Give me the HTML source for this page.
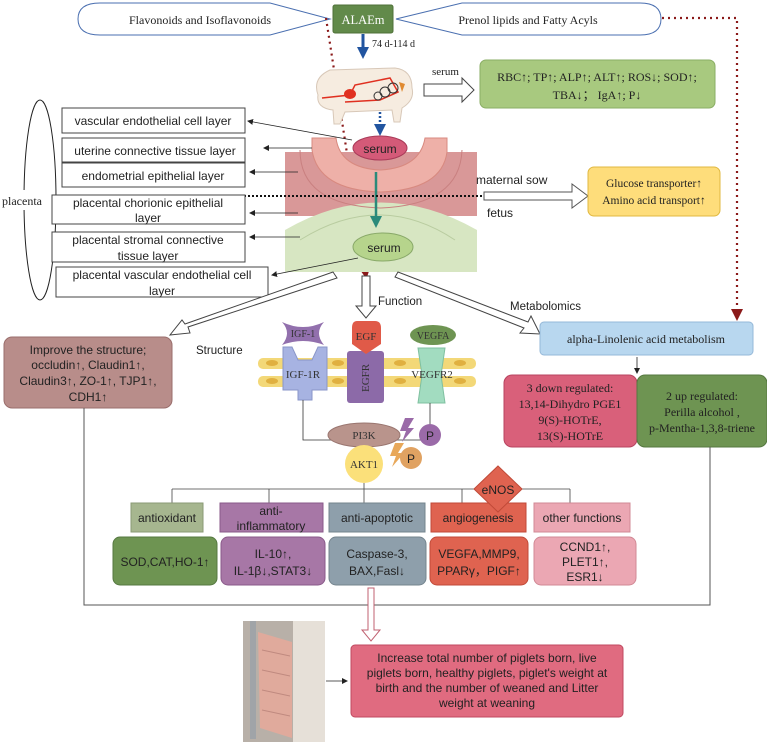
<!DOCTYPE html>
<html><head><meta charset="utf-8"><style>
html,body{margin:0;padding:0;background:#fff;}
svg{display:block;}
.s{font-family:"Liberation Serif",serif;}
.a{font-family:"Liberation Sans",sans-serif;}
</style></head><body>
<svg width="767" height="745" viewBox="0 0 767 745" xmlns="http://www.w3.org/2000/svg">
<defs>
<marker id="ab" markerUnits="userSpaceOnUse" markerWidth="12" markerHeight="12" refX="9" refY="6" orient="auto"><path d="M0,0 L12,6 L0,12 z" fill="#2255a0"/></marker>
<marker id="ak" markerUnits="userSpaceOnUse" markerWidth="6" markerHeight="6" refX="5" refY="3" orient="auto"><path d="M0,0 L6,3 L0,6 z" fill="#222"/></marker>
<marker id="ar" markerUnits="userSpaceOnUse" markerWidth="12" markerHeight="12" refX="9" refY="6" orient="auto"><path d="M0,0 L12,6 L0,12 z" fill="#8b1a1a"/></marker>
<marker id="at" markerUnits="userSpaceOnUse" markerWidth="12" markerHeight="12" refX="9" refY="6" orient="auto"><path d="M0,0 L12,6 L0,12 z" fill="#2a8a7a"/></marker>
</defs>

<path d="M100,3 L270,3 L330,19 L270,35 L100,35 Q78,35 78,19 Q78,3 100,3 z" fill="#fff" stroke="#4a6fb0" stroke-width="1"/>
<text x="200" y="24" class="s" font-size="12" text-anchor="middle" fill="#222">Flavonoids and Isoflavonoids</text>
<path d="M462,3 L640,3 Q661,3 661,19 Q661,35 640,35 L462,35 L396,19 z" fill="#fff" stroke="#4a6fb0" stroke-width="1"/>
<text x="528" y="24" class="s" font-size="12" text-anchor="middle" fill="#222">Prenol lipids and Fatty Acyls</text>
<rect x="333" y="5" width="60" height="28" rx="2" fill="#628a4a" stroke="#4f7038"/>
<text x="363" y="24" class="s" font-size="12.5" text-anchor="middle" fill="#fff">ALAEm</text>

<path d="M662,18 L737,18 L737,318" fill="none" stroke="#8b1a1a" stroke-width="2.2" stroke-dasharray="2,4" marker-end="url(#ar)"/>
<path d="M326,18 L366,276" fill="none" stroke="#8b1a1a" stroke-width="2.2" stroke-dasharray="2,4" marker-end="url(#ar)"/>

<line x1="363" y1="34" x2="363" y2="56" stroke="#2255a0" stroke-width="3" marker-end="url(#ab)"/>
<text x="372" y="47" class="s" font-size="10" fill="#222">74 d-114 d</text>

<path d="M318,95 Q312,78 330,70 L395,68 Q412,70 412,88 Q415,100 402,108 L400,122 L394,122 L392,110 L345,112 L340,124 L334,124 L333,110 Q316,108 318,95 z" fill="#f6ece0" stroke="#d8c8b8"/>
<path d="M322,98 L350,95 L355,85 L390,78 L398,92 L380,100 L345,102" fill="none" stroke="#e03020" stroke-width="1.5"/>
<ellipse cx="350" cy="94" rx="6" ry="5" fill="#e03020"/>
<circle cx="385" cy="92" r="5" fill="none" stroke="#333"/>
<circle cx="393" cy="88" r="5" fill="none" stroke="#333"/>
<circle cx="378" cy="96" r="4" fill="none" stroke="#333"/>
<path d="M399,82 L405,84 L402,92 z" fill="#e08a30"/>
<text x="432" y="75" class="s" font-size="11" fill="#222">serum</text>
<path d="M424,84 L462,84 L462,78 L474,90 L462,102 L462,96 L424,96 z" fill="#fff" stroke="#444"/>
<rect x="480" y="60" width="235" height="48" rx="6" fill="#a8c97f" stroke="#8aae64"/>
<text x="597" y="81" class="s" font-size="12" text-anchor="middle" fill="#222">RBC↑; TP↑; ALP↑; ALT↑; ROS↓; SOD↑;</text>
<text x="597" y="99" class="s" font-size="12" text-anchor="middle" fill="#222">TBA↓； IgA↑; P↓</text>
<line x1="380" y1="112" x2="380" y2="133" stroke="#2255a0" stroke-width="2.5" stroke-dasharray="2,2" marker-end="url(#ab)"/>

<rect x="285" y="152" width="192" height="64" fill="#d99898"/>
<path d="M285,272 L285,230 Q380,175 477,230 L477,272 z" fill="#d7e6c2"/>
<path d="M300,240 Q380,190 455,240" fill="none" stroke="#b9cca0" stroke-width="1"/>
<path d="M312,150 L312,138 L336,138 Q340,168 380,170 Q420,168 425,138 L447,138 L447,152 Q442,190 380,192 Q318,190 312,150 z" fill="#eeb0a8" stroke="#d88a80"/>
<path d="M300,150 Q300,205 380,208 Q460,205 462,150" fill="none" stroke="#c98080" stroke-width="1"/>
<ellipse cx="380" cy="148" rx="27" ry="12" fill="#d45a78" stroke="#a83a58"/>
<text x="380" y="153" class="a" font-size="12" text-anchor="middle" fill="#222">serum</text>
<ellipse cx="383" cy="247" rx="30" ry="14" fill="#b6d48c" stroke="#88a868"/>
<text x="384" y="252" class="a" font-size="12" text-anchor="middle" fill="#222">serum</text>
<line x1="376" y1="172" x2="376" y2="225" stroke="#2a8a7a" stroke-width="2.5" marker-end="url(#at)"/>
<text x="476" y="184" class="a" font-size="12" fill="#222">maternal sow</text>
<text x="487" y="217" class="a" font-size="12" fill="#222">fetus</text>
<line x1="244" y1="196" x2="572" y2="196" stroke="#111" stroke-width="2" stroke-dasharray="2,2"/>
<path d="M484,192 L572,192 L572,184 L588,196 L572,208 L572,200 L484,200 z" fill="#fff" stroke="#555"/>
<rect x="588" y="167" width="132" height="49" rx="6" fill="#fedd7b" stroke="#e0b840"/>
<text x="654" y="187" class="s" font-size="11.5" text-anchor="middle" fill="#222">Glucose transporter↑</text>
<text x="654" y="204" class="s" font-size="11.5" text-anchor="middle" fill="#222">Amino acid transport↑</text>

<ellipse cx="40" cy="200" rx="16" ry="100" fill="#fff" stroke="#222"/>
<rect x="0" y="190" width="48" height="20" fill="#fff"/>
<text x="2" y="205" class="s" font-size="12" fill="#222">placenta</text>
<g class="a" font-size="12" fill="#222" text-anchor="middle">
<rect x="62" y="108" width="183" height="25" fill="#fff" stroke="#444"/><text x="153" y="125">vascular endothelial cell layer</text>
<rect x="62" y="138" width="183" height="24" fill="#fff" stroke="#444"/><text x="155" y="155">uterine connective tissue layer</text>
<rect x="62" y="163" width="183" height="24" fill="#fff" stroke="#444"/><text x="153" y="180">endometrial epithelial layer</text>
<rect x="52" y="195" width="193" height="29" fill="#fff" stroke="#444"/><text x="148" y="207">placental chorionic epithelial</text><text x="148" y="222">layer</text>
<rect x="52" y="232" width="193" height="30" fill="#fff" stroke="#444"/><text x="148" y="244">placental stromal connective</text><text x="148" y="260">tissue layer</text>
<rect x="56" y="267" width="212" height="30" fill="#fff" stroke="#444"/><text x="162" y="279">placental vascular endothelial cell</text><text x="162" y="295">layer</text>
</g>
<g stroke="#222" stroke-width="0.8" fill="none">
<line x1="352" y1="140" x2="248" y2="121" marker-end="url(#ak)"/>
<line x1="312" y1="148" x2="264" y2="148" marker-end="url(#ak)"/>
<line x1="298" y1="172" x2="250" y2="172" marker-end="url(#ak)"/>
<line x1="298" y1="213" x2="250" y2="213" marker-end="url(#ak)"/>
<line x1="300" y1="237" x2="250" y2="237" marker-end="url(#ak)"/>
<line x1="358" y1="258" x2="272" y2="275" marker-end="url(#ak)"/>
</g>

<path d="M333,272 L337,278 L188,327 L190,333 L170,335 L182,320 L185,324 z" fill="#fff" stroke="#444"/>
<path d="M362,276 L370,276 L370,306 L376,306 L366,318 L356,306 L362,306 z" fill="#fff" stroke="#444"/>
<path d="M395,277 L398,272 L528,322 L531,316 L540,334 L520,333 L524,328 z" fill="#fff" stroke="#444"/>
<text x="378" y="305" class="a" font-size="11.5" fill="#222">Function</text>
<text x="510" y="310" class="a" font-size="11.5" fill="#222">Metabolomics</text>
<text x="196" y="354" class="a" font-size="11.5" fill="#222">Structure</text>

<rect x="4" y="337" width="168" height="71" rx="8" fill="#b88d8a" stroke="#9a6e6c"/>
<g class="a" font-size="12" fill="#222" text-anchor="middle">
<text x="88" y="354">Improve the structure;</text>
<text x="88" y="369">occludin↑, Claudin1↑,</text>
<text x="88" y="385">Claudin3↑, ZO-1↑, TJP1↑,</text>
<text x="88" y="401">CDH1↑</text>
</g>

<rect x="540" y="322" width="213" height="33" rx="4" fill="#b8d7ef" stroke="#95b8d8"/>
<text x="646" y="343" class="s" font-size="12" text-anchor="middle" fill="#222">alpha-Linolenic acid metabolism</text>
<line x1="637" y1="357" x2="637" y2="373" stroke="#222" stroke-width="0.8" marker-end="url(#ak)"/>
<rect x="504" y="375" width="133" height="72" rx="8" fill="#d9607a" stroke="#b84460"/>
<g class="s" font-size="12" fill="#222" text-anchor="middle">
<text x="570" y="392">3 down regulated:</text><text x="570" y="408">13,14-Dihydro PGE1</text><text x="570" y="424">9(S)-HOTrE,</text><text x="570" y="440">13(S)-HOTrE</text>
</g>
<rect x="637" y="375" width="130" height="72" rx="8" fill="#6e9452" stroke="#557840"/>
<g class="s" font-size="12" fill="#222" text-anchor="middle">
<text x="702" y="400">2 up regulated:</text><text x="702" y="416">Perilla alcohol ,</text><text x="702" y="432">p-Mentha-1,3,8-triene</text>
</g>

<path d="M84,408 L84,605 L710,605 L710,447" fill="none" stroke="#555" stroke-width="1"/>

<g fill="#f3d878">
<rect x="258" y="358" width="218" height="11" rx="5"/>
<rect x="258" y="376" width="218" height="11" rx="5"/>
</g>
<g fill="#e0b040">
<ellipse cx="272" cy="363" rx="6" ry="3"/><ellipse cx="338" cy="363" rx="6" ry="3"/><ellipse cx="400" cy="363" rx="6" ry="3"/><ellipse cx="460" cy="363" rx="6" ry="3"/>
<ellipse cx="272" cy="381" rx="6" ry="3"/><ellipse cx="338" cy="381" rx="6" ry="3"/><ellipse cx="400" cy="381" rx="6" ry="3"/><ellipse cx="460" cy="381" rx="6" ry="3"/>
</g>
<path d="M283,347 L292,347 L298,360 L312,360 L318,347 L327,347 L327,390 L312,390 L312,400 L298,400 L298,390 L283,390 z" fill="#a7b3e2" stroke="#8a96c8"/>
<text x="303" y="378" class="s" font-size="11" text-anchor="middle" fill="#333">IGF-1R</text>
<path d="M282,322 Q303,332 324,322 Q314,333 324,345 Q303,337 282,345 Q292,333 282,322 z" fill="#9270ad"/>
<text x="303" y="337" class="s" font-size="10" text-anchor="middle" fill="#333">IGF-1</text>
<rect x="347" y="351" width="37" height="52" rx="3" fill="#8c6aa8"/>
<text x="369" y="392" class="s" font-size="11" fill="#333" transform="rotate(-90 369 392)">EGFR</text>
<path d="M357,321 L375,321 Q381,321 381,328 L381,344 L366,354 L352,344 L352,328 Q352,321 357,321 z" fill="#e05a48"/>
<text x="366" y="340" class="s" font-size="11" text-anchor="middle" fill="#333">EGF</text>
<path d="M418,348 L445,348 L441,375 L445,403 L418,403 L422,375 z" fill="#a2dcc0" stroke="#7fc0a0"/>
<text x="432" y="378" class="s" font-size="11" text-anchor="middle" fill="#333">VEGFR2</text>
<ellipse cx="433" cy="335" rx="23" ry="10" fill="#6e9452"/>
<text x="433" y="339" class="s" font-size="10" text-anchor="middle" fill="#333">VEGFA</text>

<path d="M303,400 L303,440 L430,440 L430,403" fill="none" stroke="#333" stroke-width="0.8"/>
<line x1="366" y1="440" x2="366" y2="451" stroke="#333" stroke-width="0.8" marker-end="url(#ak)"/>
<ellipse cx="364" cy="435" rx="36" ry="12" fill="#b9948c" stroke="#9a7670"/>
<text x="364" y="439" class="s" font-size="11" text-anchor="middle" fill="#333">PI3K</text>
<circle cx="364" cy="464" r="19" fill="#fbe07a"/>
<text x="364" y="468" class="s" font-size="11" text-anchor="middle" fill="#333">AKT1</text>
<path d="M405,418 L414,418 L408,428 L414,428 L402,442 L406,431 L400,431 z" fill="#9a6aa8"/>
<circle cx="430" cy="435" r="11" fill="#9a6aa8"/><text x="430" y="440" class="a" font-size="12" text-anchor="middle" fill="#222">P</text>
<path d="M395,443 L404,443 L398,453 L404,453 L392,467 L396,456 L390,456 z" fill="#e8a85a"/>
<circle cx="411" cy="458" r="11" fill="#e0a262"/><text x="411" y="463" class="a" font-size="12" text-anchor="middle" fill="#222">P</text>

<path d="M172,489 L570,489 M172,489 L172,503 M269,489 L269,503 M364,483 L364,503 M462,489 L462,503 M570,489 L570,503" fill="none" stroke="#444" stroke-width="0.8"/>
<g class="a" font-size="12" text-anchor="middle" fill="#222">
<rect x="131" y="503" width="72" height="29" fill="#a6b68f" stroke="#8a9a74"/><text x="167" y="522">antioxidant</text>
<rect x="220" y="503" width="103" height="29" fill="#a777a6" stroke="#8a5a8a"/><text x="271" y="515">anti-</text><text x="271" y="530">inflammatory</text>
<rect x="329" y="503" width="96" height="29" fill="#8e9fab" stroke="#74848e"/><text x="377" y="522">anti-apoptotic</text>
<rect x="431" y="503" width="95" height="29" fill="#df6350" stroke="#c04a38"/><text x="478" y="522">angiogenesis</text>
<rect x="534" y="503" width="96" height="29" fill="#eba7b3" stroke="#d08894"/><text x="582" y="522">other functions</text>
</g>
<path d="M498,466 L522,489 L498,512 L474,489 z" fill="#df6350" stroke="#c04a38"/>
<text x="498" y="494" class="a" font-size="12" text-anchor="middle" fill="#222">eNOS</text>
<g class="a" font-size="12" text-anchor="middle" fill="#222">
<rect x="113" y="537" width="104" height="48" rx="7" fill="#6e9452" stroke="#557840"/><text x="165" y="566">SOD,CAT,HO-1↑</text>
<rect x="221" y="537" width="104" height="48" rx="7" fill="#a777a6" stroke="#8a5a8a"/><text x="273" y="558">IL-10↑,</text><text x="273" y="575">IL-1β↓,STAT3↓</text>
<rect x="329" y="537" width="97" height="48" rx="7" fill="#8e9fab" stroke="#74848e"/><text x="377" y="558">Caspase-3,</text><text x="377" y="575">BAX,Fasl↓</text>
<rect x="430" y="537" width="98" height="48" rx="7" fill="#df6350" stroke="#c04a38"/><text x="479" y="558">VEGFA,MMP9,</text><text x="479" y="575">PPARγ，PIGF↑</text>
<rect x="534" y="537" width="102" height="48" rx="7" fill="#eba7b3" stroke="#d08894"/><text x="585" y="551">CCND1↑,</text><text x="585" y="566">PLET1↑,</text><text x="585" y="581">ESR1↓</text>
</g>

<path d="M368,588 L374,588 L374,630 L380,630 L371,641 L362,630 L368,630 z" fill="#fff" stroke="#c06070"/>
<rect x="243" y="621" width="82" height="121" fill="#b8b0a8"/>
<rect x="293" y="621" width="32" height="121" fill="#e6e0d8"/>
<path d="M258,632 L292,642 L292,738 L260,728 z" fill="#e0aa9c"/>
<g stroke="#c08a80" stroke-width="1"><line x1="262" y1="650" x2="290" y2="656"/><line x1="262" y1="670" x2="290" y2="676"/><line x1="262" y1="690" x2="290" y2="696"/><line x1="262" y1="710" x2="290" y2="716"/></g>
<rect x="250" y="621" width="6" height="118" fill="#a0a4a8"/>
<line x1="326" y1="681" x2="347" y2="681" stroke="#222" stroke-width="0.8" marker-end="url(#ak)"/>
<rect x="351" y="645" width="272" height="72" rx="4" fill="#e06b80" stroke="#c04a60"/>
<g class="a" font-size="12" text-anchor="middle" fill="#222">
<text x="487" y="662">Increase total number of piglets born, live</text>
<text x="487" y="677">piglets born, healthy piglets, piglet's weight at</text>
<text x="487" y="692">birth and the number of weaned and Litter</text>
<text x="487" y="707">weight at weaning</text>
</g>
</svg>
</body></html>
